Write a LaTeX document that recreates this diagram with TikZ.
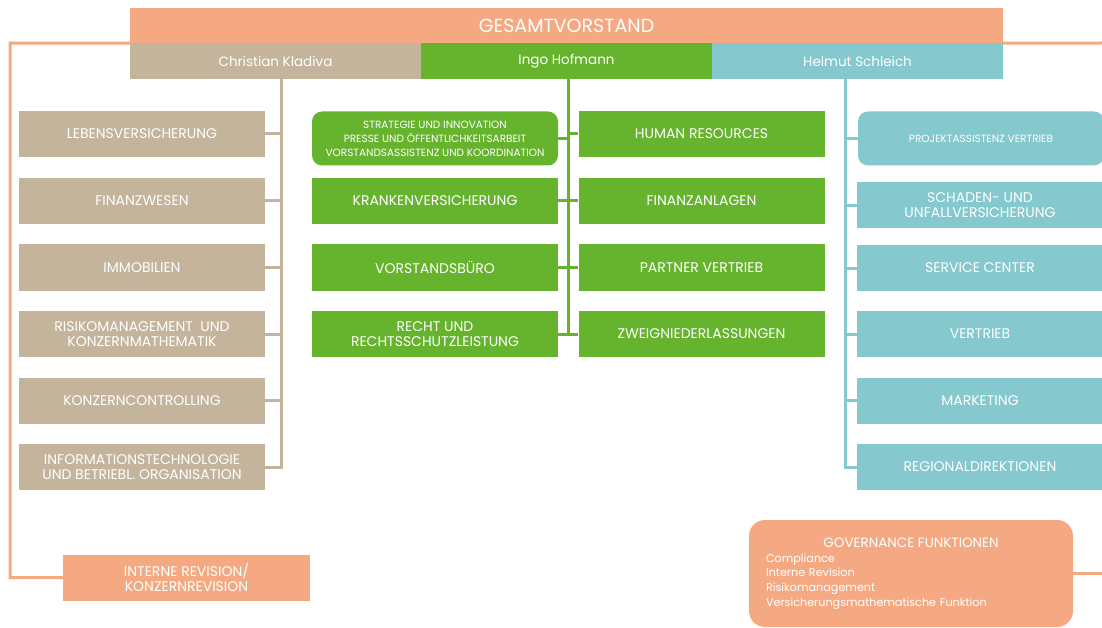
\documentclass[tikz,border=0pt]{standalone}
\usepackage{fontspec}
\setmainfont{Poppins}
\usepackage{tikz}
\usetikzlibrary{positioning}
\definecolor{vorstand}{HTML}{F4A983}
\definecolor{kladiva}{HTML}{C4B49C}
\definecolor{hofmann}{HTML}{66B32E}
\definecolor{schleich}{HTML}{85C8CD}

\begin{document}
\begin{tikzpicture}[x=1pt,y=-1pt,
			top node/.style={rectangle, fill=vorstand, text=white, minimum width=873pt, minimum height=35pt, font=\fontsize{19}{21}\selectfont},
			head node/.style={rectangle, fill=#1, text=white, minimum width=291pt, minimum height=36pt, font=\fontsize{13.5}{15}\selectfont},
			unit node/.style={rectangle, fill=#1, text=white, align=center, minimum width=246pt, minimum height=46pt, inner sep=2pt, font=\fontsize{14}{15}\selectfont},
			staff node/.style={unit node=#1, rounded corners=10pt, minimum height=54pt, font=\fontsize{10.5}{14}\selectfont},
			branch/.style={line width=3pt, draw=#1, to path={|- (\tikztotarget)}}]
			\useasboundingbox (0,0) rectangle (1102,628);
			
			\node[top node] (1) at (566.5,25.5) {GESAMTVORSTAND};
			\node[head node=kladiva] (2) at (275.5,61) {Christian Kladiva};
			\node[head node=hofmann] (3) at (566.5,61) {Ingo Hofmann};
			\node[head node=schleich] (4) at (857.5,61) {Helmut Schleich};
			
			% Kladiva
			\node[unit node=kladiva] (5) at (142,134) {LEBENSVERSICHERUNG};
			\node[unit node=kladiva] (6) at (142,201) {FINANZWESEN};
			\node[unit node=kladiva] (7) at (142,267.5) {IMMOBILIEN};
			\node[unit node=kladiva] (8) at (142,334) {RISIKOMANAGEMENT\ \ UND\\KONZERNMATHEMATIK};
			\node[unit node=kladiva] (9) at (142,400.5) {KONZERNCONTROLLING};
			\node[unit node=kladiva] (10) at (142,467) {INFORMATIONSTECHNOLOGIE\\UND BETRIEBL. ORGANISATION};
			
			% Hofmann
			\node[staff node=hofmann] (11) at (435,138.5) {STRATEGIE UND INNOVATION\\PRESSE UND ÖFFENTLICHKEITSARBEIT\\VORSTANDSASSISTENZ UND KOORDINATION};
			\node[unit node=hofmann] (12) at (435,201) {KRANKENVERSICHERUNG};
			\node[unit node=hofmann] (13) at (435,267.5) {VORSTANDSBÜRO};
			\node[unit node=hofmann] (14) at (435,334) {RECHT UND\\RECHTSSCHUTZLEISTUNG};
			\node[unit node=hofmann] (15) at (701.5,134) {HUMAN RESOURCES};
			\node[unit node=hofmann] (16) at (701.5,201) {FINANZANLAGEN};
			\node[unit node=hofmann] (17) at (701.5,267.5) {PARTNER VERTRIEB};
			\node[unit node=hofmann] (18) at (701.5,334) {ZWEIGNIEDERLASSUNGEN};
			
			% Schleich
			\node[staff node=schleich] (19) at (981,138.5) {PROJEKTASSISTENZ VERTRIEB};
			\node[unit node=schleich] (20) at (980,205.5) {SCHADEN- UND\\UNFALLVERSICHERUNG};
			\node[unit node=schleich] (21) at (980,268) {SERVICE CENTER};
			\node[unit node=schleich] (22) at (980,334) {VERTRIEB};
			\node[unit node=schleich] (23) at (980,400.5) {MARKETING};
			\node[unit node=schleich] (24) at (980,467) {REGIONALDIREKTIONEN};
			
			\node[unit node=vorstand,minimum width=247pt] (25) at (186.5,577.5) {INTERNE REVISION/\\KONZERNREVISION};
			\node[rectangle, fill=vorstand, text=white, rounded corners=16pt, minimum width=324pt, minimum height=107pt, text width=290pt, align=left, font=\fontsize{11.2}{14.7}\selectfont] (26) at (911,573.5)
			{\makebox[290pt][c]{\fontsize{13.5}{14}\selectfont GOVERNANCE FUNKTIONEN}\\Compliance\\Interne Revision\\Risikomanagement\\Versicherungsmathematische Funktion\\[14pt]};
			
			\coordinate (kt) at (281,79);
			\coordinate (ht) at (568,79);
			\coordinate (st) at (845,79);
			\coordinate (ol) at (10,43);
			\coordinate (or) at (1102,43);
			\coordinate (gr) at (1102,573.5);
			
			\path (kt) edge[branch=kladiva] (5) edge[branch=kladiva] (6) edge[branch=kladiva] (7)
			(kt) edge[branch=kladiva] (8) edge[branch=kladiva] (9) edge[branch=kladiva] (10)
			(ht) edge[branch=hofmann] (11) edge[branch=hofmann] (12) edge[branch=hofmann] (13) edge[branch=hofmann] (14)
			(ht) edge[branch=hofmann] (15) edge[branch=hofmann] (16) edge[branch=hofmann] (17) edge[branch=hofmann] (18)
			(st) edge[branch=schleich] (19) edge[branch=schleich] (20) edge[branch=schleich] (21)
			(st) edge[branch=schleich] (22) edge[branch=schleich] (23) edge[branch=schleich] (24);
			
			\draw[line width=3pt, vorstand] (1.south west) -- (ol) |- (25);
			\draw[line width=3pt, vorstand] (1.south east) -- (or);
			\draw[line width=3pt, vorstand] (26) -- (gr);
			
		\end{tikzpicture}
\end{document}
